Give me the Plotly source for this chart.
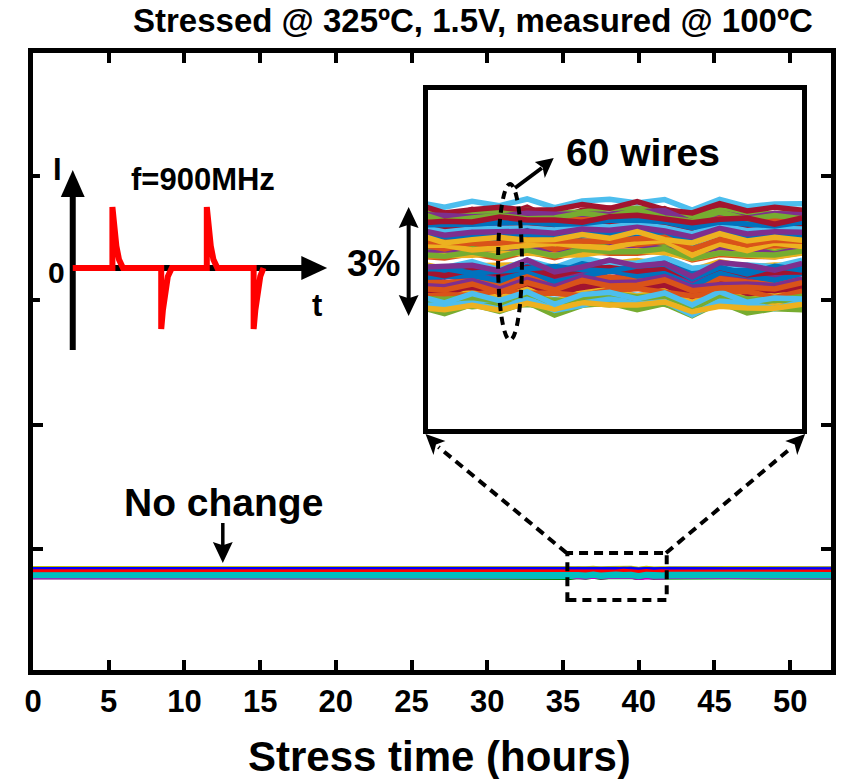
import plotly.graph_objects as go

# ---------------- data ----------------
# stress time (hours)
hours_early = [0, 10, 20, 30]
hours_inset = [35.0, 35.5, 36.0, 36.5, 37.0, 37.5, 38.0, 38.5, 39.0, 39.5, 40.0, 40.5, 41.0, 41.5, 42.0]
hours_late = [46, 53]
x_ticks = [0, 5, 10, 15, 20, 25, 30, 35, 40, 45, 50]

# resistance change of each wire, in units of 0.01 % of its initial value
early_bp = [
    [62, 56, 65, 59], [-98, -91, -97, -89], [25, 19, 14, 23], [118, 115, 123, 116],
    [-136, -138, -143, -139], [-121, -112, -114, -117], [137, 131, 140, 134], [-53, -46, -52, -44],
    [80, 74, 69, 78], [-132, -135, -127, -134], [-56, -58, -63, -59], [24, 33, 31, 28],
    [167, 161, 170, 164], [-83, -76, -82, -74], [90, 84, 79, 88], [8, 5, 13, 6],
    [-16, -18, -23, -19], [94, 103, 101, 98], [-148, -154, -145, -151], [52, 59, 53, 61],
    [-95, -101, -106, -97], [-32, -35, -27, -34], [114, 112, 107, 111], [39, 48, 46, 43],
    [-43, -49, -40, -46], [137, 144, 138, 146], [-120, -126, -131, -122], [93, 90, 98, 91],
    [74, 72, 67, 71], [-76, -67, -69, -72], [-108, -114, -105, -111], [22, 29, 23, 31],
    [-130, -136, -141, -132], [-20, -23, -15, -22], [154, 152, 147, 151], [-61, -52, -54, -57],
    [42, 36, 45, 39], [9, 16, 10, 18], [135, 129, 124, 133], [13, 10, 18, 11],
    [94, 92, 87, 91], [-96, -87, -89, -92], [67, 61, 70, 64], [-108, -101, -107, -99],
    [40, 34, 29, 38], [-77, -80, -72, -79], [129, 127, 122, 126], [-146, -137, -139, -142],
    [-38, -44, -35, -41], [102, 109, 103, 111], [55, 49, 44, 53], [-147, -150, -142, -149],
    [84, 82, 77, 81], [-126, -117, -119, -122], [-116, -122, -113, -119], [112, 119, 113, 121],
    [-30, -36, -41, -32], [-87, -90, -82, -89], [64, 62, 57, 61], [-31, -22, -24, -27],
]

inset_bp = [
    [63, 48, 66, 53, 73, 47, 67, 72, 61, 71, 40, 72, 50, 58, 59],
    [-100, -101, -98, -93, -91, -98, -96, -86, -85, -90, -108, -91, -95, -103, -91],
    [22, 18, 15, 16, 25, 22, 23, 22, 29, 33, -2, 27, 11, 24, 21],
    [117, 111, 124, 109, 130, 112, 132, 125, 125, 134, 105, 121, 116, 115, 127],
    [-134, -151, -142, -141, -139, -145, -132, -136, -127, -138, -156, -130, -147, -140, -142],
    [-116, -118, -113, -124, -101, -126, -113, -101, -111, -106, -139, -106, -116, -122, -109],
    [141, 119, 147, 126, 153, 115, 144, 151, 131, 149, 113, 153, 121, 134, 131],
    [-60, -54, -56, -41, -50, -50, -57, -40, -36, -48, -58, -48, -44, -63, -44],
    [79, 79, 65, 72, 77, 85, 76, 71, 87, 93, 49, 83, 63, 86, 75],
    [-136, -140, -122, -147, -118, -140, -111, -128, -126, -110, -142, -134, -132, -137, -118],
    [-48, -74, -64, -57, -66, -64, -49, -60, -40, -64, -74, -46, -68, -57, -66],
    [28, 32, 34, 17, 50, 14, 29, 50, 32, 40, 0, 42, 34, 19, 40],
    [168, 153, 171, 158, 178, 152, 172, 177, 166, 176, 145, 177, 155, 163, 164],
    [-85, -86, -83, -78, -76, -83, -81, -71, -70, -75, -93, -76, -80, -88, -76],
    [87, 83, 80, 81, 90, 87, 88, 87, 94, 98, 63, 92, 76, 89, 86],
    [7, 1, 14, -1, 20, 2, 22, 15, 15, 24, -5, 11, 6, 5, 17],
    [-14, -31, -22, -21, -19, -25, -12, -16, -7, -18, -36, -10, -27, -20, -22],
    [99, 97, 102, 91, 114, 89, 102, 114, 104, 109, 76, 109, 99, 93, 106],
    [-144, -166, -138, -159, -132, -170, -141, -134, -154, -136, -172, -132, -164, -151, -154],
    [45, 51, 49, 64, 55, 55, 48, 65, 69, 57, 47, 57, 61, 42, 61],
    [-96, -96, -110, -103, -98, -90, -99, -104, -88, -82, -126, -92, -112, -89, -100],
    [-36, -40, -22, -47, -18, -40, -11, -28, -26, -10, -42, -34, -32, -37, -18],
    [122, 96, 106, 113, 104, 106, 121, 110, 130, 106, 96, 124, 102, 113, 104],
    [43, 47, 49, 32, 65, 29, 44, 65, 47, 55, 15, 57, 49, 34, 55],
    [-42, -57, -39, -52, -32, -58, -38, -33, -44, -34, -65, -33, -55, -47, -46],
    [135, 134, 137, 142, 144, 137, 139, 149, 150, 145, 127, 144, 140, 132, 144],
    [-123, -127, -130, -129, -120, -123, -122, -123, -116, -112, -147, -118, -134, -121, -124],
    [92, 86, 99, 84, 105, 87, 107, 100, 100, 109, 80, 96, 91, 90, 102],
    [76, 59, 68, 69, 71, 65, 78, 74, 83, 72, 54, 80, 63, 70, 68],
    [-71, -73, -68, -79, -56, -81, -68, -56, -66, -61, -94, -61, -71, -77, -64],
    [-104, -126, -98, -119, -92, -130, -101, -94, -114, -96, -132, -92, -124, -111, -114],
    [15, 21, 19, 34, 25, 25, 18, 35, 39, 27, 17, 27, 31, 12, 31],
    [-131, -131, -145, -138, -133, -125, -134, -139, -123, -117, -161, -127, -147, -124, -135],
    [-24, -28, -10, -35, -6, -28, 1, -16, -14, 2, -30, -22, -20, -25, -6],
    [162, 136, 146, 153, 144, 146, 161, 150, 170, 146, 136, 164, 142, 153, 144],
    [-57, -53, -51, -68, -35, -71, -56, -35, -53, -45, -85, -43, -51, -66, -45],
    [43, 28, 46, 33, 53, 27, 47, 52, 41, 51, 20, 52, 30, 38, 39],
    [7, 6, 9, 14, 16, 9, 11, 21, 22, 17, -1, 16, 12, 4, 16],
    [132, 128, 125, 126, 135, 132, 133, 132, 139, 143, 108, 137, 121, 134, 131],
    [12, 6, 19, 4, 25, 7, 27, 20, 20, 29, 0, 16, 11, 10, 22],
    [96, 79, 88, 89, 91, 85, 98, 94, 103, 92, 74, 100, 83, 90, 88],
    [-91, -93, -88, -99, -76, -101, -88, -76, -86, -81, -114, -81, -91, -97, -84],
    [71, 49, 77, 56, 83, 45, 74, 81, 61, 79, 43, 83, 51, 64, 61],
    [-115, -109, -111, -96, -105, -105, -112, -95, -91, -103, -113, -103, -99, -118, -99],
    [39, 39, 25, 32, 37, 45, 36, 31, 47, 53, 9, 43, 23, 46, 35],
    [-81, -85, -67, -92, -63, -85, -56, -73, -71, -55, -87, -79, -77, -82, -63],
    [137, 111, 121, 128, 119, 121, 136, 125, 145, 121, 111, 139, 117, 128, 119],
    [-142, -138, -136, -153, -120, -156, -141, -120, -138, -130, -170, -128, -136, -151, -130],
    [-37, -52, -34, -47, -27, -53, -33, -28, -39, -29, -60, -28, -50, -42, -41],
    [100, 99, 102, 107, 109, 102, 104, 114, 115, 110, 92, 109, 105, 97, 109],
    [52, 48, 45, 46, 55, 52, 53, 52, 59, 63, 28, 57, 41, 54, 51],
    [-148, -154, -141, -156, -135, -153, -133, -140, -140, -131, -160, -144, -149, -150, -138],
    [86, 69, 78, 79, 81, 75, 88, 84, 93, 82, 64, 90, 73, 80, 78],
    [-121, -123, -118, -129, -106, -131, -118, -106, -116, -111, -144, -111, -121, -127, -114],
    [-112, -134, -106, -127, -100, -138, -109, -102, -122, -104, -140, -100, -132, -119, -122],
    [105, 111, 109, 124, 115, 115, 108, 125, 129, 117, 107, 117, 121, 102, 121],
    [-31, -31, -45, -38, -33, -25, -34, -39, -23, -17, -61, -27, -47, -24, -35],
    [-91, -95, -77, -102, -73, -95, -66, -83, -81, -65, -97, -89, -87, -92, -73],
    [72, 46, 56, 63, 54, 56, 71, 60, 80, 56, 46, 74, 52, 63, 54],
    [-27, -23, -21, -38, -5, -41, -26, -5, -23, -15, -55, -13, -21, -36, -15],
]

late_bp = [
    [63, 58], [-99, -90], [21, 14], [126, 122], [-142, -143], [-115, -111], [138, 133], [-54, -45],
    [76, 69], [-124, -128], [-62, -63], [30, 34], [168, 163], [-84, -75], [86, 79], [16, 12],
    [-22, -23], [100, 104], [-147, -152], [51, 60], [-99, -106], [-24, -28], [108, 107], [45, 49],
    [-42, -47], [136, 145], [-124, -131], [101, 97], [68, 67], [-70, -66], [-107, -112], [21, 30],
    [-134, -141], [-12, -16], [148, 147], [-55, -51], [43, 38], [8, 17], [131, 124], [21, 17],
    [88, 87], [-90, -86], [68, 63], [-109, -100], [36, 29], [-69, -73], [123, 122], [-140, -136],
    [-37, -42], [101, 110], [51, 44], [-139, -143], [78, 77], [-120, -116], [-115, -120], [111, 120],
    [-34, -41], [-79, -83], [58, 57], [-25, -21],
]

# schematic of the bipolar pulsed stress current (time in periods, current normalised)
wave_t = [0, 0.42, 0.42, 0.438, 0.462, 0.49, 0.532,
          0.937, 0.937, 0.955, 0.979, 1.007, 1.049,
          1.42, 1.42, 1.438, 1.462, 1.49, 1.532,
          1.916, 1.916, 1.934, 1.958, 1.986, 2.02]
wave_i = [0, 0, 1.0, 0.69, 0.36, 0.14, 0,
          0, -1.0, -0.69, -0.36, -0.14, 0,
          0, 1.0, 0.69, 0.36, 0.14, 0,
          0, -1.0, -0.69, -0.36, -0.14, 0]

inset_colors = ['#0072BD', '#D95319', '#EDB120', '#7E2F8E', '#77AC30', '#4DBEEE', '#A2142F']


def main_color(i):
    """Colour of wire i in the full-range panel (bands as they appear in the original)."""
    lvl = early_bp[i][0]
    if lvl >= 140:
        return '#BFBF00'
    if lvl >= 100:
        return '#0000FF'
    if lvl >= 60:
        return '#FF0000'
    if lvl >= -125:
        return '#00BFBF'
    return '#BF00BF' if i % 2 else '#008000'


# ---------------- geometry ----------------
W, H = 842, 779
ML, MR, MT, MB = 33, 6, 53, 109
PW, PH = W - ML - MR, H - MT - MB
FONT = 'Liberation Sans, Arial, sans-serif'


def fx(x):
    return (x - ML) / PW


def fy(y):
    return (H - MB - y) / PH


K = 0.4 / 124.5            # main y-units per pixel
Y0PIX = 573                # pixel row of R/R0 = 1
main_yrange = [1 - (H - MB - Y0PIX) * K, 1 + (Y0PIX - MT) * K]
main_yticks = [1 + (Y0PIX - p) * K for p in (549, 425, 300, 176)]

inset_px = (430, 807, 90, 428.5)
KI = 3.0e-4                # inset y-units per pixel
I0PIX = 258.3
inset_yrange = [1 - (inset_px[3] - I0PIX) * KI, 1 + (I0PIX - inset_px[2]) * KI]
inset_xrange = [35.19, 42.0]

wave_px = (40, 345, 140, 360)
wt = lambda p: (p - 73) / 95.0
wi = lambda p: (268 - p) / 61.0

fig = go.Figure()

# black axes of the current schematic (drawn first so the red waveform sits on top)
fig.add_trace(go.Scatter(x=[wt(73), wt(73), None, wt(73), wt(306)],
                         y=[wi(350), wi(192), None, wi(268), wi(268)],
                         mode='lines', xaxis='x3', yaxis='y3',
                         line=dict(color='black', width=6), showlegend=False, hoverinfo='skip'))

for i in range(60):
    t = hours_early + hours_inset + hours_late
    r = [1 + v / 1e4 for v in early_bp[i] + inset_bp[i] + late_bp[i]]
    fig.add_trace(go.Scatter(x=t, y=r, mode='lines', xaxis='x', yaxis='y',
                             line=dict(color=main_color(i), width=3.5),
                             showlegend=False, hoverinfo='skip'))

for i in range(60):
    fig.add_trace(go.Scatter(x=hours_inset, y=[1 + v / 1e4 for v in inset_bp[i]], mode='lines',
                             xaxis='x2', yaxis='y2',
                             line=dict(color=inset_colors[i % 7], width=5.5),
                             showlegend=False, hoverinfo='skip'))

fig.add_trace(go.Scatter(x=wave_t, y=wave_i, mode='lines', xaxis='x3', yaxis='y3',
                         line=dict(color='#FF0000', width=6), showlegend=False, hoverinfo='skip'))

# ---------------- shapes ----------------
shapes = []


def pline(x0, y0, x1, y1, w=4, dash=None):
    d = dict(type='line', xref='paper', yref='paper', x0=fx(x0), y0=fy(y0), x1=fx(x1), y1=fy(y1),
             line=dict(color='black', width=w))
    if dash:
        d['line']['dash'] = dash
    shapes.append(d)


def head(tip, c1, c2, notch=0.2):
    bx, by = (c1[0] + c2[0]) / 2, (c1[1] + c2[1]) / 2
    nx, ny = bx + (tip[0] - bx) * notch, by + (tip[1] - by) * notch
    pts = [tip, c1, (nx, ny), c2]
    path = 'M ' + ' L '.join('%.5f,%.5f' % (fx(p[0]), fy(p[1])) for p in pts) + ' Z'
    shapes.append(dict(type='path', xref='paper', yref='paper', path=path,
                       fillcolor='black', line=dict(width=0)))


DASH = '9px,6px'
# zoom box on the main axes
shapes.append(dict(type='rect', xref='x', yref='y', x0=inset_xrange[0] + 0.1, x1=inset_xrange[1] - 0.15,
                   y0=1 - (600 - Y0PIX) * K, y1=1 + (Y0PIX - 553) * K,
                   line=dict(color='black', width=4, dash=DASH)))
# connectors to the inset
pline(570, 553, 441, 447, 4, DASH)
head((428, 434), (448, 441), (436, 455), 0.25)
pline(670, 553, 797, 447, 4, DASH)
head((810, 434), (790, 441), (802, 455), 0.25)
# ellipse around the bundle
shapes.append(dict(type='circle', xref='paper', yref='paper', x0=fx(501), x1=fx(525), y0=fy(184), y1=fy(340),
                   line=dict(color='black', width=4, dash='8px,6px')))
# "60 wires" arrow
pline(518, 188, 545, 168, 4)
head((557, 158), (538, 162), (548, 178), 0.2)
# "No change" arrow
pline(224, 523, 224, 548, 3.5)
head((224, 563), (214, 542), (234, 542), 0.15)
# 3 % double arrow
pline(411, 222, 411, 301, 4)
head((411, 207), (401, 228), (421, 228), 0.15)
head((411, 316), (401, 295), (421, 295), 0.15)
# current-waveform arrow heads
head((73, 170), (61, 197), (85, 197), 0.0)
head((329, 268), (303, 256), (303, 280), 0.0)

# ---------------- texts ----------------
def txt(s, x, y, size, xanchor='center'):
    return dict(text=s, x=fx(x), y=fy(y), xref='paper', yref='paper', showarrow=False,
                xanchor=xanchor, yanchor='middle',
                font=dict(family=FONT, size=size, color='black', weight='bold'))


annotations = [
    txt('Stressed @ 325ºC, 1.5V, measured @ 100ºC', 476, 20, 33),
    txt('Stress time (hours)', 442, 756, 42),
    txt('No change', 224.5, 502, 39),
    txt('60 wires', 647, 152, 39),
    txt('3%', 376, 263, 37),
    txt('f=900MHz', 204, 179, 31),
    txt('I', 58, 169, 31),
    txt('0', 56.5, 272, 30),
    txt('t', 319, 305, 31),
]

axis_common = dict(showgrid=False, zeroline=False, showline=True, linecolor='black', linewidth=5,
                   mirror='ticks', ticks='inside', ticklen=10, tickwidth=4, tickcolor='black')

fig.update_layout(
    width=W, height=H,
    margin=dict(l=ML, r=MR, t=MT, b=MB, pad=0),
    paper_bgcolor='white', plot_bgcolor='white',
    showlegend=False,
    xaxis=dict(range=[0, 52.7], tickvals=x_ticks, ticktext=[str(v) for v in x_ticks],
               tickfont=dict(family=FONT, size=31, color='black', weight='bold'),
               **axis_common),
    yaxis=dict(range=main_yrange, tickvals=main_yticks, showticklabels=False, **axis_common),
    xaxis2=dict(domain=[fx(inset_px[0]), fx(inset_px[1])], range=inset_xrange, anchor='y2',
                showgrid=False, zeroline=False, showline=True, linecolor='black', linewidth=5,
                mirror=True, ticks='', showticklabels=False),
    yaxis2=dict(domain=[fy(inset_px[3]), fy(inset_px[2])], range=inset_yrange, anchor='x2',
                showgrid=False, zeroline=False, showline=True, linecolor='black', linewidth=5,
                mirror=True, ticks='', showticklabels=False),
    xaxis3=dict(domain=[fx(wave_px[0]), fx(wave_px[1])], range=[wt(wave_px[0]), wt(wave_px[1])],
                anchor='y3', visible=False),
    yaxis3=dict(domain=[fy(wave_px[3]), fy(wave_px[2])], range=[wi(wave_px[3]), wi(wave_px[2])],
                anchor='x3', visible=False),
    shapes=shapes,
    annotations=annotations,
)

fig.write_html('out.html', config={'displayModeBar': False},
               post_script="document.body.style.margin='0px';")
